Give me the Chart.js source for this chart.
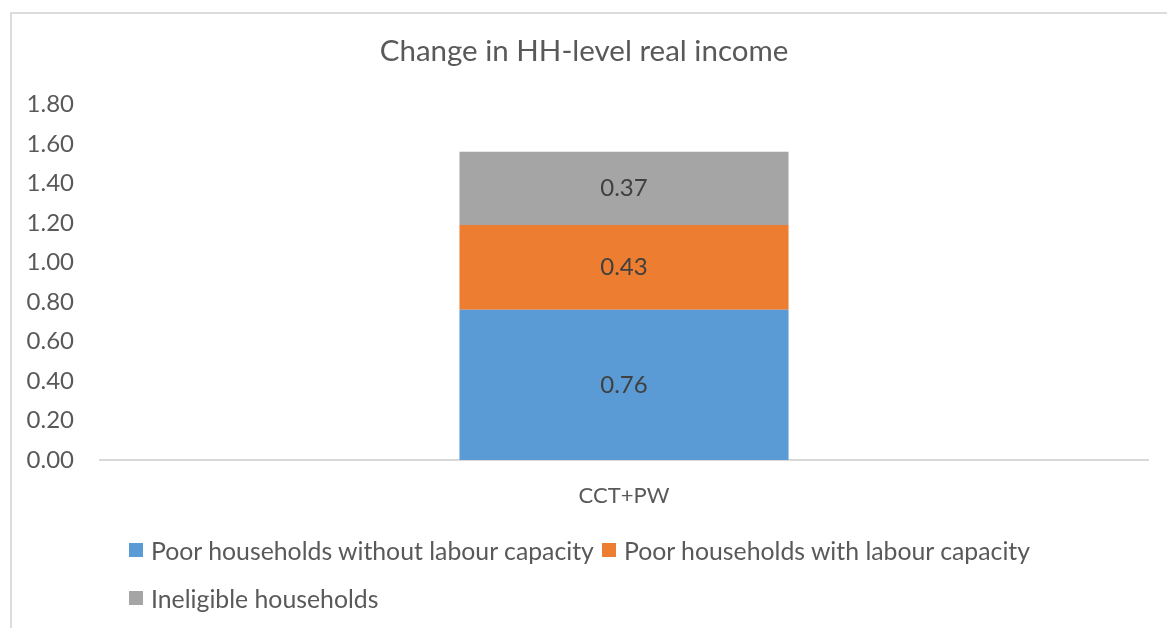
<!DOCTYPE html>
<html>
<head>
<meta charset="utf-8">
<script src="https://cdn.jsdelivr.net/npm/chart.js@4/dist/chart.umd.min.js"></script>
<style>
  html, body { margin: 0; padding: 0; background: #fff; overflow: hidden; }
  #frame {
    position: absolute; left: 10px; top: 12px;
    width: 1200px; height: 700px;
    border: 2px solid #dcdcdc; box-sizing: border-box;
  }
  #wrap { position: absolute; left: 0; top: 0; width: 1167px; height: 628px; }
  #legend {
    position: absolute; left: 129px; top: 536px; width: 950px;
    display: flex; flex-wrap: wrap; row-gap: 20px;
    font-family: Lato, sans-serif; font-size: 24.8px; color: #595959;
  }
  #legend .item { display: flex; align-items: center; height: 28px; margin-right: 8px; }
  #legend .box { width: 14px; height: 14px; margin-right: 8px; }
</style>
</head>
<body>
<div id="frame"></div>
<div id="wrap"><canvas id="chart"></canvas></div>
<div id="legend"></div>
<script>
const categories = ['CCT+PW'];
const seriesNames = [
  'Poor households without labour capacity',
  'Poor households with labour capacity',
  'Ineligible households'
];
const noLabour = [0.76];
const withLabour = [0.43];
const ineligible = [0.37];
const colors = ['#5B9BD5', '#ED7D31', '#A5A5A5'];

const FONT = 'Lato, sans-serif';
const TEXT = '#595959';

// value labels in the middle of each stacked segment
const barLabels = {
  id: 'barLabels',
  afterDatasetsDraw(chart) {
    const ctx = chart.ctx;
    ctx.save();
    ctx.font = '24px ' + FONT;
    ctx.fillStyle = '#404040';
    ctx.textAlign = 'center';
    ctx.textBaseline = 'middle';
    chart.data.datasets.forEach((ds, i) => {
      chart.getDatasetMeta(i).data.forEach((bar, j) => {
        const p = bar.getCenterPoint();
        ctx.fillText(ds.data[j].toFixed(2), p.x, p.y);
      });
    });
    ctx.restore();
  }
};

const chart = new Chart(document.getElementById('chart'), {
  type: 'bar',
  data: {
    labels: categories,
    datasets: [noLabour, withLabour, ineligible].map((d, i) => ({
      label: seriesNames[i],
      data: d,
      backgroundColor: colors[i],
      borderWidth: 0,
      categoryPercentage: 1,
      barPercentage: 0.314
    }))
  },
  options: {
    responsive: true,
    maintainAspectRatio: false,
    animation: false,
    layout: { padding: { top: 12, left: 20, right: 19, bottom: 116 } },
    plugins: {
      legend: { display: false },
      tooltip: { enabled: false },
      title: {
        display: true,
        text: 'Change in HH-level real income',
        color: TEXT,
        font: { family: FONT, size: 29.5, weight: 'normal' },
        padding: { top: 22, bottom: 35 }
      }
    },
    scales: {
      x: {
        stacked: true,
        grid: { display: false, drawTicks: false },
        border: { display: true, color: '#d9d9d9', width: 2 },
        ticks: { color: TEXT, font: { family: FONT, size: 22 }, padding: 23 },
        afterFit(scale) { scale.height = 52; }
      },
      y: {
        stacked: true,
        min: 0,
        max: 1.8,
        grid: { display: false, drawTicks: false },
        border: { display: false },
        ticks: {
          stepSize: 0.2,
          color: TEXT,
          font: { family: FONT, size: 24 },
          padding: 26,
          callback: v => v.toFixed(2)
        },
        afterFit(scale) { scale.width = 80; }
      }
    }
  },
  plugins: [barLabels]
});

// legend rows built from the datasets
const legend = document.getElementById('legend');
chart.data.datasets.forEach(ds => {
  const item = document.createElement('div');
  item.className = 'item';
  item.innerHTML = '<span class="box" style="background:' + ds.backgroundColor + '"></span>' + ds.label;
  legend.appendChild(item);
});
</script>
</body>
</html>
